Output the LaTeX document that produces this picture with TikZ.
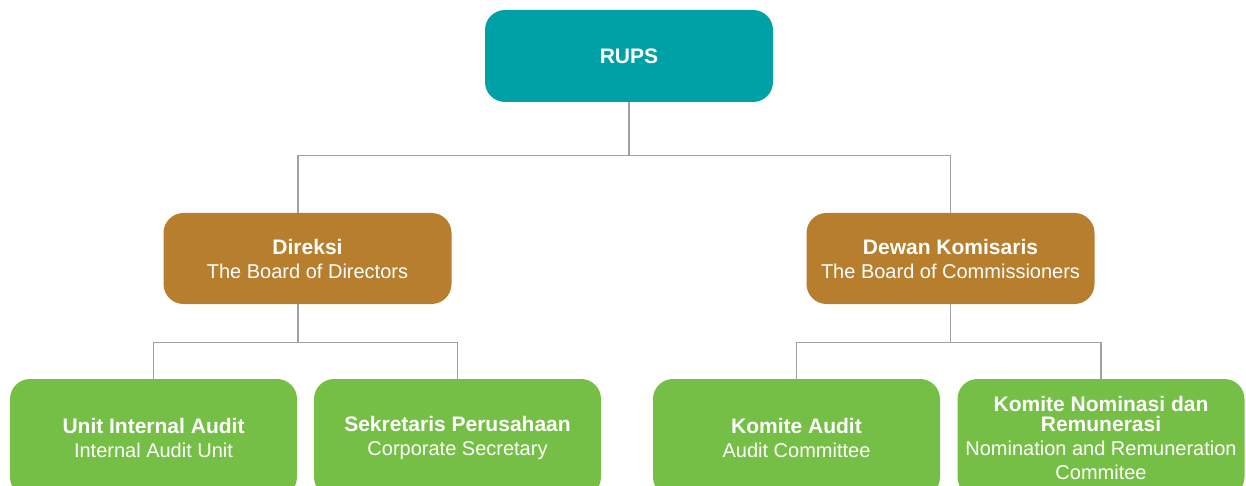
\documentclass[tikz,border=0pt]{standalone}
\usepackage{fontspec}
\setmainfont{Liberation Sans}
\definecolor{rupsteal}{HTML}{00A1A6}
\definecolor{boardbrown}{HTML}{B77E2D}
\definecolor{unitgreen}{HTML}{76BF47}
\definecolor{linkgray}{HTML}{A0A0A0}

\begin{document}
\begin{tikzpicture}[x=1pt,y=-1pt,
        box/.style={rounded corners=20pt, inner sep=0pt, align=center, text=white,
            minimum width=288pt, font=\fontsize{20}{24}\selectfont},
        rups/.style={box, fill=rupsteal, minimum height=92pt},
        board/.style={box, fill=boardbrown, minimum height=91pt},
        unit/.style={box, fill=unitgreen, minimum width=287pt, minimum height=118pt},
        link/.style={draw=linkgray, line width=1.3pt}]
        \newcommand{\hd}[1]{{\fontsize{21}{20}\bfseries #1}}

        \useasboundingbox (0,0) rectangle (1246,486);
        \clip (0,0) rectangle (1246,486);

        \node[rups] (rups) at (629,56) {\hd{RUPS}};

        \node[board] (dir) at (307.5,258.5) {\hd{Direksi}\\The Board of Directors};
        \node[board] (kom) at (950.5,258.5) {\hd{Dewan Komisaris}\\The Board of Commissioners};

        \node[unit] (uia) at (153.5,438) {\hd{Unit Internal Audit}\\Internal Audit Unit};
        \node[unit] (sek) at (457.5,438) {\hd{Sekretaris Perusahaan}\\Corporate Secretary};
        \node[unit] (ka) at (796.5,438) {\hd{Komite Audit}\\Audit Committee};
        \node[unit] (knr) at (1101,438) {\hd{Komite Nominasi dan}\\[-4pt]\hd{Remunerasi}\\Nomination and Remuneration\\Commitee};

        % connectors
        \coordinate (dirx) at (298,0);
        \draw[link] (rups.south) -- ++(0,53) coordinate (rj);
        \draw[link] (rj) -| (dir.north -| dirx);
        \draw[link] (rj) -| (kom.north);

        \draw[link] (dir.south -| dirx) -- ++(0,38) coordinate (dj);
        \draw[link] (dj) -| (uia.north);
        \draw[link] (dj) -| (sek.north);

        \draw[link] (kom.south) -- ++(0,38) coordinate (kj);
        \draw[link] (kj) -| (ka.north);
        \draw[link] (kj) -| (knr.north);
    \end{tikzpicture}
\end{document}
